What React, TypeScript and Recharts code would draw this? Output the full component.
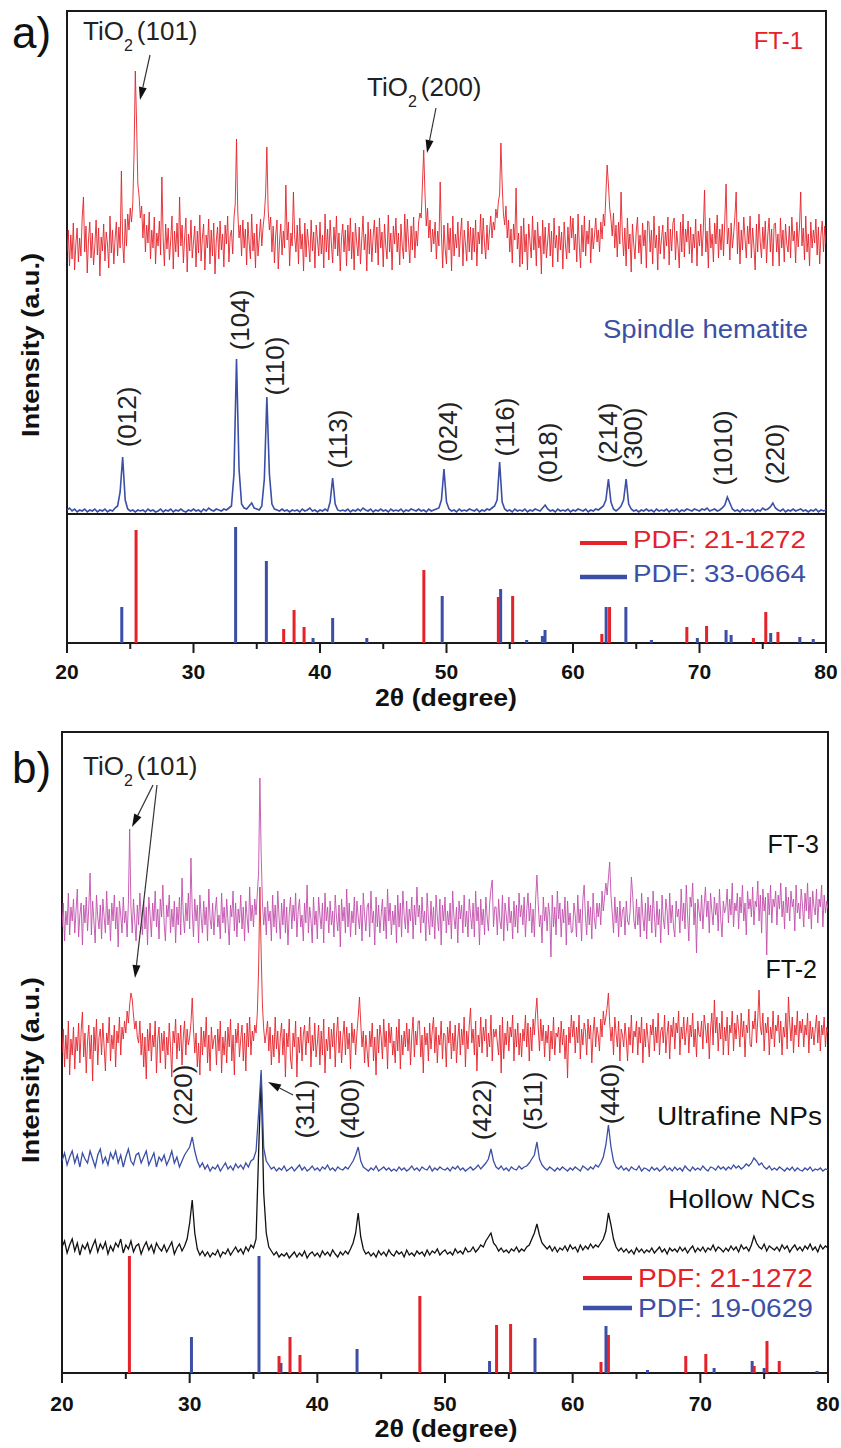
import React from 'react';
import { ComposedChart, Line, XAxis, YAxis, ReferenceArea } from 'recharts';

// ---------- data ----------
// 2θ grids: noisy FT scans recorded every 0.1°, the other scans every 0.2°
const TWO_THETA_FINE: number[] = Array.from({ length: 601 }, (_, i) => Math.round((20 + i * 0.1) * 10) / 10);
const TWO_THETA_COARSE: number[] = Array.from({ length: 301 }, (_, i) => Math.round((20 + i * 0.2) * 10) / 10);

// panel a, FT-1 (one row per degree, 20.0 ... 79.9, then 80.0)
const FT1 = [
  262, 284, 248, 279, 255, 291, 244, 270, 286, 252,
  276, 258, 296, 317, 262, 288, 241, 274, 292, 256,
  281, 249, 268, 294, 259, 286, 238, 277, 263, 290,
  253, 282, 270, 246, 298, 261, 284, 250, 275, 292,
  258, 287, 266, 343, 272, 251, 295, 268, 300, 284,
  306, 292, 310, 360, 443, 392, 330, 318, 296, 308,
  276, 300, 262, 289, 271, 302, 255, 284, 266, 297,
  250, 281, 268, 293, 259, 337, 276, 248, 290, 265,
  286, 254, 274, 298, 245, 283, 262, 291, 257, 317,
  268, 289, 251, 277, 296, 242, 280, 263, 294, 256,
  272, 288, 247, 283, 261, 299, 253, 276, 290, 244,
  279, 266, 295, 250, 284, 258, 291, 240, 273, 287,
  255, 293, 264, 280, 247, 289, 270, 298, 252, 278,
  284, 260, 296, 310, 375, 302, 276, 289, 258, 294,
  266, 285, 249, 292, 271, 255, 300, 263, 281, 246,
  290, 258, 276, 295, 268, 287, 299, 320, 367, 305,
  284, 297, 262, 288, 251, 279, 294, 245, 272, 290,
  259, 283, 266, 329, 274, 292, 248, 281, 268, 322,
  277, 262, 289, 250, 296, 265, 280, 243, 291, 257,
  285, 270, 252, 294, 263, 282, 246, 289, 274, 258,
  292, 260, 279, 246, 300, 262, 285, 254, 294, 270,
  251, 287, 265, 298, 258, 281, 243, 276, 290, 262,
  284, 248, 289, 263, 296, 255, 282, 244, 291, 272,
  258, 287, 250, 274, 298, 264, 280, 243, 292, 260,
  285, 252, 278, 294, 261, 287, 249, 296, 266, 282,
  247, 290, 268, 255, 299, 262, 281, 244, 288, 270,
  296, 262, 281, 249, 290, 268, 255, 300, 262, 295,
  272, 251, 288, 264, 297, 256, 283, 268, 292, 301,
  296, 330, 364, 320, 288, 306, 276, 294, 262, 285,
  270, 292, 255, 283, 268, 332, 279, 246, 289, 264,
  250, 291, 264, 286, 243, 298, 258, 280, 266, 292,
  257, 279, 296, 248, 284, 270, 253, 293, 262, 287,
  254, 286, 262, 294, 248, 282, 270, 300, 260, 296,
  271, 255, 289, 264, 283, 298, 276, 292, 284, 305,
  296, 312, 320, 371, 330, 300, 289, 308, 276, 294,
  262, 285, 251, 290, 274, 326, 265, 281, 247, 288,
  250, 296, 262, 280, 244, 290, 272, 256, 298, 264,
  284, 248, 292, 266, 278, 240, 294, 260, 287, 256,
  273, 291, 258, 283, 247, 296, 266, 279, 252, 288,
  264, 282, 245, 292, 270, 255, 287, 261, 298, 276,
  296, 264, 280, 252, 300, 268, 246, 289, 262, 298,
  258, 283, 270, 294, 251, 286, 265, 279, 296, 272,
  284, 262, 292, 275, 300, 288, 320, 349, 330, 306,
  295, 278, 301, 266, 289, 257, 292, 270, 322, 280,
  258, 286, 248, 296, 265, 280, 242, 290, 270, 255,
  283, 297, 261, 279, 250, 291, 268, 284, 246, 293,
  292, 262, 284, 250, 298, 266, 279, 244, 288, 260,
  276, 289, 255, 282, 268, 297, 249, 285, 263, 291,
  296, 254, 283, 268, 246, 292, 262, 300, 257, 285,
  272, 293, 260, 287, 251, 280, 266, 295, 248, 283,
  268, 290, 258, 284, 324, 262, 283, 246, 296, 266,
  280, 252, 291, 270, 299, 256, 285, 264, 290, 258,
  294, 330, 270, 286, 254, 291, 266, 280, 298, 322,
  260, 292, 250, 284, 264, 297, 275, 256, 288, 270,
  298, 256, 286, 268, 244, 290, 262, 300, 272, 256,
  287, 265, 293, 251, 279, 296, 262, 285, 248, 290,
  291, 262, 280, 248, 296, 266, 284, 252, 290, 270,
  262, 288, 256, 297, 273, 283, 251, 292, 267, 286,
  322, 268, 286, 254, 298, 262, 280, 248, 292, 266,
  284, 271, 295, 259, 287, 250, 279, 293, 262, 288,
  270,
];

// panel a, spindle hematite (0.2° steps, one row per 2°)
const HEMATITE = [
  4, 6, 3, 5, 2, 4, 3, 5, 2, 4,
  3, 5, 2, 4, 3, 5, 2, 4, 3, 6,
  8, 22, 57, 14, 5, 3, 4, 2, 4, 3,
  4, 2, 5, 3, 4, 2, 3, 5, 2, 4,
  3, 5, 2, 4, 3, 5, 3, 2, 4, 3,
  5, 3, 4, 2, 5, 3, 6, 4, 3, 5,
  4, 3, 5, 4, 6, 8, 40, 155, 45, 10,
  6, 5, 8, 11, 6, 5, 4, 8, 35, 117,
  40, 10, 5, 4, 3, 5, 3, 4, 2, 4,
  3, 4, 2, 5, 3, 4, 6, 3, 4, 2,
  4, 3, 5, 3, 12, 36, 10, 4, 3, 4,
  3, 5, 2, 4, 3, 5, 3, 6, 4, 3,
  5, 2, 4, 3, 5, 3, 4, 2, 5, 3,
  4, 3, 5, 2, 4, 3, 5, 4, 3, 5,
  3, 4, 2, 5, 3, 4, 5, 6, 14, 45,
  12, 5, 3, 4, 2, 5, 3, 4, 3, 5,
  4, 3, 5, 2, 4, 3, 5, 4, 6, 8,
  14, 52, 12, 5, 3, 4, 2, 5, 3, 4,
  3, 5, 2, 4, 3, 5, 4, 3, 6, 9,
  5, 3, 4, 2, 5, 3, 4, 3, 5, 2,
  4, 3, 5, 4, 3, 5, 2, 4, 3, 5,
  4, 6, 8, 14, 35, 12, 5, 3, 5, 8,
  14, 35, 10, 5, 3, 4, 2, 4, 3, 5,
  3, 4, 2, 5, 3, 4, 3, 5, 2, 4,
  3, 5, 2, 4, 3, 5, 4, 3, 5, 4,
  3, 5, 4, 6, 3, 4, 5, 3, 4, 6,
  9, 17, 11, 5, 3, 4, 2, 5, 3, 4,
  3, 5, 2, 4, 3, 6, 4, 5, 7, 11,
  6, 4, 3, 5, 2, 4, 3, 5, 3, 4,
  5, 3, 4, 2, 4, 3, 5, 2, 4, 3,
  4,
];

// panel b, FT-3 (0.1° steps)
const FT3 = [
  446, 470, 432, 462, 448, 480, 438, 466, 452, 474,
  440, 462, 484, 436, 458, 470, 428, 468, 450, 476,
  442, 466, 500, 438, 472, 452, 430, 478, 456, 444,
  468, 434, 474, 456, 440, 482, 448, 464, 432, 470,
  452, 478, 444, 466, 426, 472, 458, 440, 476, 450,
  462, 436, 470, 544, 466, 440, 474, 452, 432, 468,
  448, 480, 456, 438, 472, 444, 466, 428, 476, 458,
  436, 470, 452, 482, 446, 464, 434, 474, 456, 488,
  450, 432, 468, 456, 478, 440, 464, 446, 472, 430,
  466, 448, 476, 438, 495, 458, 440, 470, 452, 480,
  444, 515, 462, 436, 474, 452, 468, 430, 478, 456,
  440, 472, 448, 466, 432, 484, 454, 444, 470, 438,
  462, 476, 446, 458, 434, 480, 450, 466, 440, 474,
  452, 428, 468, 456, 482, 442, 470, 436, 464, 450,
  478, 444, 466, 432, 472, 456, 440, 486, 452, 468,
  446, 474, 458, 480, 500, 595, 520, 470, 448, 466,
  438, 472, 452, 462, 432, 478, 446, 468, 440, 482,
  456, 434, 470, 448, 474, 440, 466, 428, 460, 476,
  444, 468, 452, 480, 436, 462, 474, 446, 458, 432,
  470, 450, 488, 440, 466, 454, 430, 476, 448, 462,
  434, 476, 458, 444, 470, 430, 480, 452, 466, 440,
  472, 448, 462, 436, 478, 456, 442, 468, 426, 474,
  452, 466, 440, 484, 446, 470, 436, 462, 450, 476,
  438, 472, 456, 444, 468, 432, 480, 458, 442, 466,
  470, 436, 482, 450, 462, 428, 476, 446, 468, 440,
  458, 474, 442, 466, 434, 484, 452, 470, 438, 462,
  448, 468, 430, 478, 446, 470, 436, 482, 458, 444,
  472, 440, 464, 452, 476, 434, 468, 448, 486, 456,
  468, 440, 476, 450, 462, 432, 480, 454, 438, 472,
  446, 466, 434, 478, 456, 442, 474, 428, 468, 452,
  476, 440, 462, 448, 470, 434, 482, 456, 444, 466,
  430, 472, 454, 468, 440, 478, 446, 462, 436, 474,
  458, 444, 470, 436, 482, 452, 466, 428, 474, 448,
  464, 438, 476, 456, 442, 470, 484, 493, 446, 466,
  466, 438, 474, 452, 444, 478, 432, 470, 458, 442,
  476, 450, 462, 434, 472, 446, 468, 440, 480, 456,
  468, 448, 476, 436, 462, 480, 452, 470, 440, 464,
  436, 474, 498, 470, 446, 458, 430, 476, 452, 466,
  442, 470, 458, 416, 478, 446, 466, 438, 482, 454,
  470, 436, 464, 450, 476, 428, 472, 448, 460, 440,
  442, 470, 458, 436, 478, 450, 464, 432, 474, 488,
  456, 438, 472, 448, 466, 434, 480, 454, 444, 470,
  456, 470, 448, 482, 462, 476, 490, 478, 495, 511,
  478, 460, 440, 476, 450, 466, 436, 472, 446, 462,
  466, 438, 472, 452, 448, 462, 496, 478, 452, 444,
  474, 448, 466, 436, 480, 456, 442, 470, 434, 476,
  452, 468, 440, 482, 458, 436, 472, 448, 464, 430,
  478, 454, 444, 474, 462, 438, 480, 450, 468, 446,
  436, 472, 456, 464, 440, 484, 452, 470, 444, 488,
  458, 432, 476, 466, 490, 448, 470, 420, 474, 462,
  452, 478, 444, 468, 486, 456, 472, 440, 480, 462,
  448, 476, 458, 470, 442, 484, 454, 436, 472, 460,
  466, 484, 450, 474, 458, 490, 446, 470, 462, 480,
  444, 476, 460, 488, 452, 470, 438, 482, 464, 474,
  456, 486, 448, 472, 466, 492, 452, 478, 440, 484,
  462, 476, 418, 480, 458, 488, 450, 474, 466, 482,
  448, 478, 464, 490, 456, 472, 444, 486, 460, 476,
  452, 482, 466, 474, 442, 488, 460, 470, 454, 484,
  468, 446, 480, 462, 490, 454, 476, 444, 482, 466,
  458, 484, 450, 474, 466, 488, 446, 478, 460, 472,
  464,
];

// panel b, FT-2 (0.1° steps)
const FT2 = [
  320, 344, 306, 338, 314, 352, 298, 334, 318, 346,
  304, 336, 322, 350, 310, 342, 361, 316, 340, 300,
  332, 348, 314, 338, 292, 346, 322, 354, 308, 336,
  344, 318, 350, 326, 302, 340, 330, 356, 312, 338,
  324, 348, 306, 342, 330, 356, 318, 346, 334, 352,
  340, 362, 350, 368, 380, 374, 358, 344, 352, 336,
  330, 352, 318, 340, 306, 336, 294, 344, 322, 350,
  312, 338, 326, 352, 300, 334, 346, 310, 340, 322,
  342, 304, 336, 318, 350, 326, 296, 342, 330, 354,
  314, 340, 322, 348, 308, 336, 352, 318, 344, 328,
  336, 350, 375, 344, 320, 340, 306, 330, 298, 346,
  318, 342, 326, 356, 310, 338, 302, 346, 324, 334,
  338, 308, 344, 322, 352, 300, 336, 318, 342, 310,
  346, 326, 354, 312, 338, 298, 344, 330, 350, 316,
  334, 348, 312, 340, 302, 350, 326, 356, 318, 342,
  332, 348, 340, 360, 404, 486, 420, 368, 344, 330,
  340, 352, 322, 346, 308, 338, 316, 356, 324, 342,
  310, 336, 350, 318, 344, 296, 340, 326, 354, 314,
  304, 340, 326, 352, 296, 336, 320, 346, 312, 338,
  348, 318, 342, 330, 356, 306, 338, 322, 350, 316,
  330, 348, 308, 342, 318, 354, 300, 334, 322, 346,
  314, 344, 326, 350, 306, 338, 356, 320, 342, 310,
  336, 352, 318, 346, 324, 340, 304, 350, 330, 344,
  318, 340, 356, 376, 350, 326, 342, 310, 338, 322,
  306, 342, 326, 350, 312, 336, 298, 344, 320, 348,
  336, 314, 354, 326, 342, 304, 350, 330, 346, 318,
  332, 310, 346, 322, 354, 304, 338, 318, 342, 326,
  350, 322, 344, 308, 338, 356, 316, 342, 328, 352,
  352, 316, 338, 300, 346, 328, 340, 312, 350, 324,
  342, 356, 320, 346, 310, 338, 328, 352, 314, 340,
  338, 306, 346, 330, 352, 314, 340, 322, 348, 310,
  334, 350, 318, 344, 328, 356, 306, 342, 324, 348,
  365, 330, 344, 318, 352, 302, 338, 326, 356, 320,
  346, 332, 354, 316, 340, 326, 358, 312, 344, 336,
  344, 330, 318, 348, 300, 356, 314, 340, 328, 352,
  322, 346, 336, 358, 312, 344, 326, 350, 318, 340,
  316, 344, 332, 358, 326, 350, 312, 346, 322, 354,
  338, 360, 375, 346, 322, 354, 332, 348, 316, 342,
  330, 348, 312, 342, 324, 356, 318, 340, 336, 346,
  320, 352, 328, 344, 314, 338, 295, 346, 330, 358,
  336, 352, 320, 346, 330, 358, 314, 344, 328, 350,
  342, 318, 354, 334, 348, 310, 340, 356, 326, 346,
  338, 322, 354, 336, 362, 348, 356, 366, 380, 350,
  332, 346, 318, 356, 340, 326, 352, 312, 344, 338,
  326, 350, 334, 312, 346, 328, 358, 320, 342, 336,
  352, 318, 346, 330, 356, 310, 344, 326, 350, 334,
  316, 348, 338, 354, 322, 346, 330, 360, 318, 342,
  346, 330, 358, 320, 340, 352, 314, 348, 336, 356,
  324, 350, 340, 362, 318, 346, 334, 356, 328, 342,
  356, 320, 348, 336, 360, 326, 344, 316, 352, 338,
  336, 352, 324, 358, 346, 330, 350, 314, 344, 360,
  328, 373, 340, 356, 322, 350, 334, 362, 318, 346,
  332, 356, 318, 348, 340, 362, 322, 350, 334, 358,
  344, 326, 360, 336, 352, 316, 348, 340, 364, 328,
  326, 352, 344, 362, 330, 354, 383, 346, 338, 360,
  322, 350, 340, 356, 318, 346, 334, 362, 326, 348,
  342, 358, 330, 352, 318, 346, 336, 360, 324, 376,
  350, 332, 356, 320, 348, 338, 362, 326, 352, 340,
  354, 326, 348, 338, 360, 320, 352, 334, 346, 328,
  344, 358, 330, 352, 322, 348, 338, 356, 326, 346,
  340,
];

// panel b, ultrafine NPs (0.2° steps)
const ULTRAFINE = [
  212, 220, 208, 216, 222, 210, 218, 206, 220, 214,
  210, 222, 214, 206, 218, 224, 210, 216, 208, 220,
  214, 222, 210, 218, 206, 216, 224, 212, 208, 218,
  220, 210, 216, 222, 208, 214, 220, 206, 216, 212,
  218, 208, 214, 222, 210, 216, 206, 212, 218, 222,
  226, 236, 222, 212, 206, 210, 204, 208, 202, 206,
  204, 208, 202, 206, 210, 204, 207, 203, 209, 205,
  208, 204, 210, 206, 212, 214, 222, 260, 303, 225,
  212, 208, 204, 206, 202, 205, 203, 207, 202, 204,
  206, 202, 205, 208, 203, 206, 202, 204, 207, 203,
  205, 202, 206, 204, 208, 203, 205, 202, 206, 204,
  203, 206, 204, 208, 212, 218, 226, 212, 206, 204,
  202, 205, 203, 207, 202, 204, 206, 203, 205, 202,
  204, 202, 206, 203, 205, 202, 204, 207, 203, 205,
  202, 206, 204, 203, 207, 202, 205, 203, 206, 204,
  203, 205, 202, 206, 204, 207, 203, 205, 202, 204,
  206, 203, 205, 208, 204, 207, 210, 214, 224, 212,
  206, 204, 207, 203, 205, 202, 206, 204, 203, 207,
  204, 206, 207, 210, 214, 218, 231, 214, 208, 205,
  203, 206, 204, 202, 205, 203, 206, 204, 202, 205,
  203, 206, 204, 202, 207, 205, 203, 206, 204, 208,
  206, 210, 216, 228, 248, 226, 212, 206, 204, 207,
  203, 205, 202, 206, 204, 203, 207, 202, 205, 204,
  202, 206, 203, 205, 202, 204, 207, 203, 205, 202,
  206, 203, 205, 202, 207, 204, 202, 206, 203, 205,
  203, 207, 204, 202, 206, 205, 203, 207, 204, 206,
  203, 206, 204, 208, 205, 207, 204, 206, 209, 207,
  210, 215, 212, 208, 210, 206, 204, 207, 203, 205,
  203, 206, 204, 202, 205, 203, 206, 202, 205, 203,
  202, 205, 203, 206, 202, 204, 203, 205, 202, 204,
  203,
];

// panel b, hollow NCs (0.2° steps)
const HOLLOW = [
  126, 132, 120, 128, 134, 122, 130, 118, 128, 124,
  130, 120, 127, 133, 121, 129, 124, 131, 119, 127,
  122, 130, 126, 134, 120, 128, 124, 132, 121, 127,
  129, 119, 126, 131, 123, 128, 120, 130, 125, 122,
  128, 121, 126, 131, 119, 125, 129, 122, 127, 134,
  150, 173, 140, 124, 118, 122, 117, 121, 116, 120,
  118, 123, 116, 121, 119, 124, 118, 122, 126, 121,
  124, 119, 126, 122, 128, 125, 134, 220, 298, 180,
  140, 126, 122, 118, 121, 116, 119, 117, 120, 115,
  118, 121, 116, 120, 117, 122, 115, 119, 121, 117,
  120, 116, 122, 118, 121, 117, 123, 119, 116, 121,
  118, 122, 119, 124, 130, 140, 160, 136, 124, 119,
  121, 117, 120, 116, 122, 118, 121, 117, 123, 119,
  117, 122, 119, 121, 116, 123, 118, 120, 117, 122,
  119, 121, 117, 123, 118, 122, 120, 124, 118, 121,
  123, 119, 121, 118, 124, 120, 122, 119, 125, 121,
  122, 126, 121, 124, 128, 126, 132, 136, 140, 130,
  127, 122, 125, 121, 123, 120, 124, 122, 126, 121,
  124, 122, 126, 128, 134, 140, 149, 138, 130, 127,
  124, 127, 122, 126, 121, 125, 123, 127, 122, 128,
  124, 126, 121, 128, 123, 127, 124, 129, 125, 128,
  126, 130, 134, 142, 160, 148, 134, 126, 122, 125,
  121, 124, 120, 123, 119, 125, 121, 124, 120, 123,
  121, 125, 120, 123, 126, 121, 124, 119, 125, 122,
  124, 121, 126, 122, 125, 120, 124, 127, 121, 125,
  122, 126, 121, 125, 123, 128, 122, 126, 124, 121,
  125, 122, 127, 123, 126, 121, 128, 124, 126, 122,
  128, 137, 130, 126, 124, 129, 122, 127, 125, 123,
  126, 122, 128, 124, 127, 121, 125, 128, 123, 126,
  122, 127, 124, 129, 123, 126, 121, 128, 124, 127,
  125,
];

// reference patterns (stick positions in 2θ, relative intensities)
const ANATASE_A_POS = [25.46, 37.13, 37.95, 38.74, 48.21, 54.1, 55.23, 62.28, 62.89, 69.0, 70.56, 74.26, 75.24, 76.2];
const ANATASE_A_INT = [113, 14, 33, 16, 73, 46, 47, 9, 36, 16, 17, 5, 31, 11];
const HEMATITE_PDF_POS = [24.33, 33.33, 35.76, 39.45, 41.0, 43.7, 49.66, 54.28, 56.34, 57.58, 57.79, 62.62, 64.18, 66.2, 69.83, 72.1, 72.5, 75.63, 77.93, 78.99];
const HEMATITE_PDF_INT = [36, 116, 82, 5, 25, 5, 47, 54, 3, 7, 13, 36, 36, 3, 5, 13, 8, 10, 6, 4];

const ANATASE_B_POS = [25.28, 37.0, 37.86, 38.64, 48.03, 54.04, 55.14, 62.22, 62.8, 68.86, 70.43, 74.22, 75.22, 76.18];
const ANATASE_B_INT = [117, 17, 36, 18, 77, 48, 49, 11, 38, 17, 19, 7, 32, 12];
const MAGNETITE_POS = [30.14, 35.43, 37.15, 43.11, 53.49, 57.05, 62.61, 65.86, 71.08, 74.06, 75.0, 79.14];
const MAGNETITE_INT = [36, 117, 10, 24, 12, 35, 47, 3, 5, 12, 5, 2];

const MAJOR_TICKS = [20, 30, 40, 50, 60, 70, 80];
const ALL_TICKS = [20, 25, 30, 35, 40, 45, 50, 55, 60, 65, 70, 75, 80];
const SEPARATOR_TICKS = [30, 45, 60, 75];

// ---------- tables ----------
const rowsAFine = TWO_THETA_FINE.map((x, i) => ({ x, ft1: FT1[i] }));
const rowsACoarse = TWO_THETA_COARSE.map((x, i) => ({ x, hem: HEMATITE[i] }));
const rowsBFine = TWO_THETA_FINE.map((x, i) => ({ x, ft3: FT3[i], ft2: FT2[i] }));
const rowsBCoarse = TWO_THETA_COARSE.map((x, i) => ({ x, nps: ULTRAFINE[i], hollow: HOLLOW[i] }));

function sticks(pos: number[], ints: number[]) {
  const out: { x: number; y: number | null }[] = [];
  pos.forEach((p, i) => {
    out.push({ x: p, y: 0 }, { x: p, y: ints[i] }, { x: p, y: null });
  });
  return out;
}

// ---------- style ----------
const FONT = "'Liberation Sans', Arial, Helvetica, sans-serif";
const RED = '#e4222a';
const BLUE = '#3c4fa6';
const MAGENTA = '#c24fab';
const INK = '#1a1a1a';

const makeAxisTick = (labelDy: number) => (props: any) => {
  const { x, y, payload } = props;
  const v = payload?.value;
  const major = MAJOR_TICKS.includes(v);
  return (
    <g>
      <line x1={x} y1={y} x2={x} y2={y + (major ? 10 : 6)} stroke={INK} strokeWidth={2} />
      {major && (
        <text x={x} y={y + labelDy} textAnchor="middle" fontSize={21} fontWeight="bold" fontFamily={FONT} fill="#111">
          {v}
        </text>
      )}
    </g>
  );
};

const separatorTick = (props: any) => {
  const { x, y } = props;
  return <line x1={x} y1={y} x2={x} y2={y + 6} stroke={INK} strokeWidth={2} />;
};

const Arrow = ({ x1, y1, x2, y2 }: { x1: number; y1: number; x2: number; y2: number }) => {
  const a = Math.atan2(y2 - y1, x2 - x1);
  const L = 13;
  const W = 4;
  const bx = x2 - L * Math.cos(a);
  const by = y2 - L * Math.sin(a);
  const px = -Math.sin(a) * W;
  const py = Math.cos(a) * W;
  return (
    <g>
      <line x1={x1} y1={y1} x2={bx} y2={by} stroke="#333" strokeWidth={1.2} />
      <polygon points={`${x2},${y2} ${bx + px},${by + py} ${bx - px},${by - py}`} fill="#111" />
    </g>
  );
};

const Hkl = ({ cx, cy, t }: { cx: number; cy: number; t: string }) => (
  <text
    x={cx}
    y={cy}
    transform={`rotate(-90 ${cx} ${cy})`}
    textAnchor="middle"
    dominantBaseline="central"
    fontSize={26}
    fontFamily={FONT}
    fill="#222"
  >
    {t}
  </text>
);

const TiO2 = ({ x, y, rest }: { x: number; y: number; rest: string }) => (
  <text x={x} y={y} fontSize={26} fontFamily={FONT} fill="#222">
    TiO
    <tspan fontSize={16} dy={11}>2</tspan>
    <tspan dy={-11} dx={4}>{rest}</tspan>
  </text>
);

export default function App() {
  return (
    <div style={{ position: 'absolute', left: 0, top: 0, width: 841, height: 1448, background: '#fff', overflow: 'hidden' }}>
      {/* panel a, upper block */}
      <div style={{ position: 'absolute', left: 0, top: 0 }}>
        <ComposedChart width={841} height={530} data={rowsAFine} margin={{ top: 11, right: 15, bottom: 16, left: 67 }}>
          <XAxis
            dataKey="x"
            type="number"
            domain={[20, 80]}
            allowDataOverflow
            ticks={SEPARATOR_TICKS}
            interval={0}
            height={0}
            tickSize={0}
            tickMargin={0}
            axisLine={false}
            tickLine={false}
            tick={separatorTick}
          />
          <YAxis hide type="number" domain={[0, 503]} allowDataOverflow />
          <ReferenceArea x1={20} x2={80} y1={0} y2={503} fill="none" fillOpacity={0} stroke={INK} strokeWidth={2} />
          <Line data={rowsACoarse} dataKey="hem" type="linear" stroke={BLUE} strokeWidth={1.6} dot={false} isAnimationActive={false} />
          <Line dataKey="ft1" type="linear" stroke={RED} strokeWidth={0.9} dot={false} isAnimationActive={false} />
        </ComposedChart>
      </div>

      {/* panel a, reference sticks */}
      <div style={{ position: 'absolute', left: 0, top: 500 }}>
        <ComposedChart width={841} height={220} margin={{ top: 14, right: 15, bottom: 0, left: 67 }}>
          <XAxis
            dataKey="x"
            type="number"
            domain={[20, 80]}
            allowDataOverflow
            ticks={ALL_TICKS}
            interval={0}
            height={77}
            tickSize={0}
            tickMargin={0}
            axisLine={false}
            tickLine={false}
            tick={makeAxisTick(36)}
          />
          <YAxis hide type="number" domain={[0, 129]} allowDataOverflow />
          <ReferenceArea x1={20} x2={80} y1={0} y2={129} fill="none" fillOpacity={0} stroke={INK} strokeWidth={2} />
          <Line data={sticks(HEMATITE_PDF_POS, HEMATITE_PDF_INT)} dataKey="y" type="linear" stroke={BLUE} strokeWidth={3} dot={false} isAnimationActive={false} />
          <Line data={sticks(ANATASE_A_POS, ANATASE_A_INT)} dataKey="y" type="linear" stroke={RED} strokeWidth={3} dot={false} isAnimationActive={false} />
        </ComposedChart>
      </div>

      {/* panel b */}
      <div style={{ position: 'absolute', left: 0, top: 720 }}>
        <ComposedChart width={841} height={728} data={rowsBFine} margin={{ top: 12, right: 13, bottom: 0, left: 62 }}>
          <XAxis
            dataKey="x"
            type="number"
            domain={[20, 80]}
            allowDataOverflow
            ticks={ALL_TICKS}
            interval={0}
            height={75}
            tickSize={0}
            tickMargin={0}
            axisLine={false}
            tickLine={false}
            tick={makeAxisTick(38)}
          />
          <YAxis hide type="number" domain={[0, 641]} allowDataOverflow />
          <ReferenceArea x1={20} x2={80} y1={0} y2={641} fill="none" fillOpacity={0} stroke={INK} strokeWidth={2} />
          <Line data={sticks(MAGNETITE_POS, MAGNETITE_INT)} dataKey="y" type="linear" stroke={BLUE} strokeWidth={3} dot={false} isAnimationActive={false} />
          <Line data={sticks(ANATASE_B_POS, ANATASE_B_INT)} dataKey="y" type="linear" stroke={RED} strokeWidth={3} dot={false} isAnimationActive={false} />
          <Line data={rowsBCoarse} dataKey="hollow" type="linear" stroke="#111" strokeWidth={1.3} dot={false} isAnimationActive={false} />
          <Line data={rowsBCoarse} dataKey="nps" type="linear" stroke={BLUE} strokeWidth={1.3} dot={false} isAnimationActive={false} />
          <Line dataKey="ft3" type="linear" stroke={MAGENTA} strokeWidth={0.9} dot={false} isAnimationActive={false} />
          <Line dataKey="ft2" type="linear" stroke={RED} strokeWidth={0.9} dot={false} isAnimationActive={false} />
        </ComposedChart>
      </div>

      {/* annotations */}
      <svg width={841} height={1448} style={{ position: 'absolute', left: 0, top: 0, pointerEvents: 'none' }}>
        {/* panel a */}
        <text x={12} y={48} fontSize={44} fontFamily={FONT} fill="#111">a)</text>
        <TiO2 x={83} y={40} rest="(101)" />
        <Arrow x1={150} y1={55} x2={140} y2={100} />
        <TiO2 x={367} y={96} rest="(200)" />
        <Arrow x1={436} y1={108} x2={427} y2={153} />
        <text x={803} y={49} textAnchor="end" fontSize={24} fontFamily={FONT} fill={RED}>FT-1</text>
        <text x={603} y={338} fontSize={25} fontFamily={FONT} fill={BLUE} textLength={205} lengthAdjust="spacingAndGlyphs">Spindle hematite</text>
        <text x={31} y={345} transform="rotate(-90 31 345)" textAnchor="middle" dominantBaseline="central" fontSize={23} fontWeight="bold" fontFamily={FONT} fill="#111" textLength={184} lengthAdjust="spacingAndGlyphs">Intensity (a.u.)</text>
        <Hkl cx={127} cy={417} t="(012)" />
        <Hkl cx={240} cy={320} t="(104)" />
        <Hkl cx={275} cy={366} t="(110)" />
        <Hkl cx={338} cy={439} t="(113)" />
        <Hkl cx={448} cy={432} t="(024)" />
        <Hkl cx={505} cy={427} t="(116)" />
        <Hkl cx={548} cy={453} t="(018)" />
        <Hkl cx={608} cy={433} t="(214)" />
        <Hkl cx={633} cy={438} t="(300)" />
        <Hkl cx={723} cy={448} t="(1010)" />
        <Hkl cx={775} cy={454} t="(220)" />
        <line x1={580} y1={543} x2={627} y2={543} stroke={RED} strokeWidth={4} />
        <text x={633} y={548} fontSize={23} fontFamily={FONT} fill={RED} textLength={173} lengthAdjust="spacingAndGlyphs">PDF: 21-1272</text>
        <line x1={580} y1={577} x2={627} y2={577} stroke={BLUE} strokeWidth={4.5} />
        <text x={633} y={582} fontSize={23} fontFamily={FONT} fill={BLUE} textLength={173} lengthAdjust="spacingAndGlyphs">PDF: 33-0664</text>
        <text x={446} y={706} textAnchor="middle" fontSize={23} fontWeight="bold" fontFamily={FONT} fill="#111" textLength={142} lengthAdjust="spacingAndGlyphs">2θ (degree)</text>

        {/* panel b */}
        <text x={12} y={783} fontSize={44} fontFamily={FONT} fill="#111">b)</text>
        <TiO2 x={83} y={775} rest="(101)" />
        <Arrow x1={153} y1={785} x2={132} y2={827} />
        <Arrow x1={157} y1={785} x2={135} y2={978} />
        <text x={819} y={853} textAnchor="end" fontSize={25} fontFamily={FONT} fill="#111">FT-3</text>
        <text x={817} y={978} textAnchor="end" fontSize={25} fontFamily={FONT} fill="#111">FT-2</text>
        <text x={657} y={1125} fontSize={25} fontFamily={FONT} fill="#111" textLength={165} lengthAdjust="spacingAndGlyphs">Ultrafine NPs</text>
        <text x={668} y={1208} fontSize={25} fontFamily={FONT} fill="#111" textLength={147} lengthAdjust="spacingAndGlyphs">Hollow NCs</text>
        <text x={31} y={1070} transform="rotate(-90 31 1070)" textAnchor="middle" dominantBaseline="central" fontSize={23} fontWeight="bold" fontFamily={FONT} fill="#111" textLength={186} lengthAdjust="spacingAndGlyphs">Intensity (a.u.)</text>
        <Hkl cx={183} cy={1095} t="(220)" />
        <Hkl cx={305} cy={1109} t="(311)" />
        <Hkl cx={350} cy={1109} t="(400)" />
        <Hkl cx={482} cy={1110} t="(422)" />
        <Hkl cx={533} cy={1101} t="(511)" />
        <Hkl cx={610} cy={1094} t="(440)" />
        <Arrow x1={293} y1={1095} x2={268} y2={1082} />
        <line x1={583} y1={1278} x2={632} y2={1278} stroke={RED} strokeWidth={4} />
        <text x={638} y={1287} fontSize={25} fontFamily={FONT} fill={RED} textLength={175} lengthAdjust="spacingAndGlyphs">PDF: 21-1272</text>
        <line x1={583} y1={1308} x2={632} y2={1308} stroke={BLUE} strokeWidth={4.5} />
        <text x={638} y={1317} fontSize={25} fontFamily={FONT} fill={BLUE} textLength={175} lengthAdjust="spacingAndGlyphs">PDF: 19-0629</text>
        <text x={446} y={1437} textAnchor="middle" fontSize={23} fontWeight="bold" fontFamily={FONT} fill="#111" textLength={143} lengthAdjust="spacingAndGlyphs">2θ (degree)</text>
      </svg>
    </div>
  );
}
